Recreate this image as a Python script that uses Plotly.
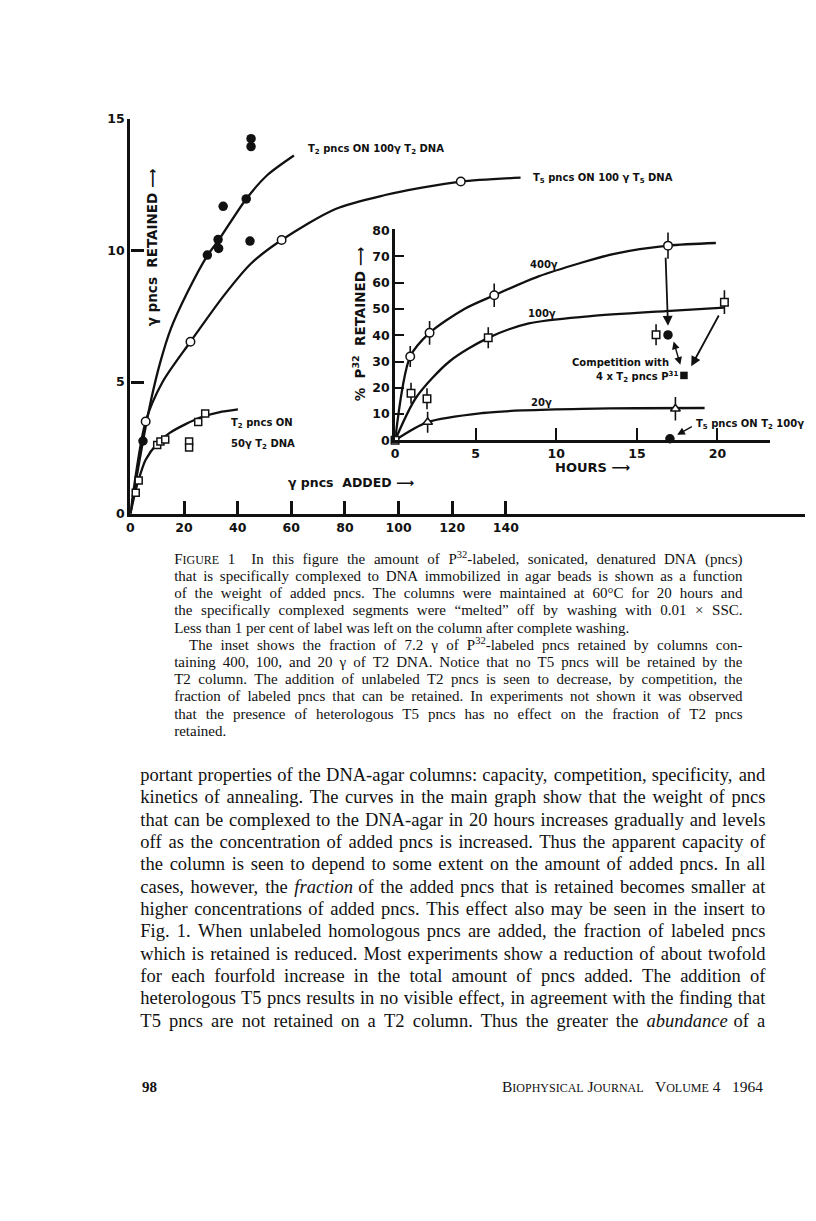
import re
import plotly.graph_objects as go

# ---------------- main graph: gamma pncs added vs gamma pncs retained ----------------
t2_100_x = [4.7, 28.7, 32.7, 32.9, 34.6, 43.2, 44.6, 45.0, 45.0]
t2_100_y = [2.76, 9.82, 10.41, 10.07, 11.67, 11.95, 10.35, 13.94, 14.24]
t2_100_curve_x = [0, 2, 4.7, 8, 11, 15, 21, 28.7, 33, 43.2, 51, 61]
t2_100_curve_y = [0, 1.2, 2.76, 4.45, 5.7, 7.0, 8.35, 9.8, 10.4, 11.95, 12.85, 13.6]

t5_100_x = [5.7, 22.4, 56.4, 123.2]
t5_100_y = [3.50, 6.53, 10.39, 12.61]
t5_100_curve_x = [0, 5.7, 12, 22.4, 35, 45, 56.4, 76.5, 95, 108.7, 123.2, 145.5]
t5_100_curve_y = [0, 3.5, 5.0, 6.53, 8.3, 9.5, 10.39, 11.57, 12.1, 12.38, 12.61, 12.76]

t2_50_x = [2.0, 3.1, 10.0, 11.2, 13.0, 21.9, 21.9, 25.3, 27.9]
t2_50_y = [0.80, 1.26, 2.61, 2.74, 2.82, 2.74, 2.51, 3.48, 3.80]
t2_50_curve_x = [0, 2, 3.1, 5.7, 10, 14.4, 20.6, 26.8, 33, 40.1]
t2_50_curve_y = [0, 0.9, 1.3, 2.05, 2.66, 3.05, 3.40, 3.68, 3.85, 3.96]

main_xticks = [0, 20, 40, 60, 80, 100, 120, 140]
main_yticks = [0, 5, 10, 15]

# ---------------- inset: hours vs % P32 retained ----------------
h400 = [0.94, 2.14, 6.15, 16.93]
p400 = [31.9, 40.9, 55.2, 74.1]
e400 = [4.0, 4.5, 4.5, 5.0]
h400_curve = [0, 0.94, 2.14, 4.3, 6.15, 8.9, 11.5, 13.6, 16.93, 19.9]
p400_curve = [0, 31.9, 40.9, 50.0, 55.2, 62.4, 67.5, 71.0, 74.1, 75.1]

h100 = [0, 0.99, 1.98, 5.78, 16.19, 20.43]
p100 = [0, 17.9, 15.8, 39.0, 40.2, 52.6]
e100 = [0, 4.0, 4.0, 4.0, 4.0, 4.5]
h100_curve = [0, 1.32, 3.39, 5.78, 8.3, 12, 16.8, 20.4]
p100_curve = [0, 16.4, 30.1, 39.0, 44.5, 47.2, 49.2, 50.5]

h20 = [2.02, 17.39]
p20 = [6.9, 12.0]
e20 = [4.0, 4.5]
h20_curve = [0, 2.02, 5.45, 8, 11.6, 15, 19.2]
p20_curve = [0, 6.9, 10.4, 11.4, 12.0, 12.2, 12.3]

comp400_h, comp400_p = [16.93], [40.1]   # competition with 4 x T2 pncs P31
comp100_h, comp100_p = [17.92], [24.7]
t5_on_t2_h, t5_on_t2_p = [17.05], [0.6]

inset_xticks = [0, 5, 10, 15, 20]
inset_yticks = [0, 10, 20, 30, 40, 50, 60, 70, 80]

# ---------------- page text ----------------
caption_lines = [
    'F<span style="font-size:12px">IGURE</span> 1\u00a0\u00a0 In this figure the amount of P<sup>32</sup>-labeled, sonicated, denatured DNA (pncs)',
    'that is specifically complexed to DNA immobilized in agar beads is shown as a function',
    'of the weight of added pncs. The columns were maintained at 60°C for 20 hours and',
    'the specifically complexed segments were “melted” off by washing with 0.01 × SSC.',
    'Less than 1 per cent of label was left on the column after complete washing.',
    'The inset shows the fraction of 7.2 γ of P<sup>32</sup>-labeled pncs retained by columns con-',
    'taining 400, 100, and 20 γ of T2 DNA. Notice that no T5 pncs will be retained by the',
    'T2 column. The addition of unlabeled T2 pncs is seen to decrease, by competition, the',
    'fraction of labeled pncs that can be retained. In experiments not shown it was observed',
    'that the presence of heterologous T5 pncs has no effect on the fraction of T2 pncs',
    'retained.',
]
body_lines = [
    'portant properties of the DNA-agar columns: capacity, competition, specificity, and',
    'kinetics of annealing. The curves in the main graph show that the weight of pncs',
    'that can be complexed to the DNA-agar in 20 hours increases gradually and levels',
    'off as the concentration of added pncs is increased. Thus the apparent capacity of',
    'the column is seen to depend to some extent on the amount of added pncs. In all',
    'cases, however, the <i>fraction</i> of the added pncs that is retained becomes smaller at',
    'higher concentrations of added pncs. This effect also may be seen in the insert to',
    'Fig. 1. When unlabeled homologous pncs are added, the fraction of labeled pncs',
    'which is retained is reduced. Most experiments show a reduction of about twofold',
    'for each fourfold increase in the total amount of pncs added. The addition of',
    'heterologous T5 pncs results in no visible effect, in agreement with the finding that',
    'T5 pncs are not retained on a T2 column. Thus the greater the <i>abundance</i> of a',
]

W, H = 816, 1221


def px(x):
    return x / W


def py(y):
    return 1 - y / H


# Times / Liberation Serif advance widths (1/1000 em) for justifying lines
TW = dict(zip("abcdefghijklmnopqrstuvwxyz",
              [444, 500, 444, 500, 444, 333, 500, 500, 278, 278, 500, 278, 778,
               500, 500, 500, 500, 333, 389, 278, 500, 500, 722, 500, 500, 444]))
TW.update(zip("ABCDEFGHIJKLMNOPQRSTUVWXYZ",
              [722, 667, 667, 722, 611, 556, 722, 722, 333, 389, 722, 611, 889,
               722, 722, 556, 722, 667, 556, 611, 722, 722, 944, 722, 722, 611]))
TW.update({c: 500 for c in "0123456789"})
TW.update({' ': 250, '\u00a0': 250, ',': 250, '.': 250, ':': 278, ';': 278, '-': 333,
           '(': 333, ')': 333, '°': 400, '×': 564, '“': 444, '”': 444, 'γ': 440})


def text_w(s, size):
    total, scale = 0.0, 1.0
    for tag, chars in re.findall(r'(<[^>]+>)|([^<]+)', s):
        if tag:
            if tag in ('<sup>', '<sub>'):
                scale = 0.7
            elif tag.startswith('<span'):
                scale = 0.8
            elif tag.startswith('</s'):
                scale = 1.0
        else:
            total += sum(TW.get(c, 500) for c in chars) * scale
    return total * size / 1000


def words_of(lines, lefts, right, y0, dy, size, justify):
    # justified word positions in page pixels
    xs, ys, ts = [], [], []
    for i, line in enumerate(lines):
        words = re.split(r' +(?![^<]*>)', line.strip())
        widths = [text_w(w, size) for w in words]
        gap = 0.25 * size
        if justify[i] and len(words) > 1:
            gap = max((right - lefts[i] - sum(widths)) / (len(words) - 1), 0.5 * gap)
        x = lefts[i]
        for w, wd in zip(words, widths):
            xs.append(x)
            ys.append(y0 + dy * i)
            ts.append(w)
            x += wd + gap
    return xs, ys, ts


ink = '#111111'
sans_b = dict(family='DejaVu Sans', size=10, color=ink, weight='bold')
tick_font = dict(family='DejaVu Sans', size=12.5, color=ink, weight='bold')

fig = go.Figure()

line_style = dict(color=ink, width=2.3, shape='spline', smoothing=0.8)

# main curves
fig.add_trace(go.Scatter(x=t2_100_curve_x, y=t2_100_curve_y, mode='lines', line=line_style))
fig.add_trace(go.Scatter(x=t5_100_curve_x, y=t5_100_curve_y, mode='lines', line=line_style))
fig.add_trace(go.Scatter(x=t2_50_curve_x, y=t2_50_curve_y, mode='lines', line=line_style))

# main points
fig.add_trace(go.Scatter(x=t2_100_x, y=t2_100_y, mode='markers', cliponaxis=False,
                         marker=dict(symbol='circle', size=9.5, color=ink)))
fig.add_trace(go.Scatter(x=t5_100_x, y=t5_100_y, mode='markers', cliponaxis=False,
                         marker=dict(symbol='circle', size=8.5, color='white',
                                     line=dict(color=ink, width=1.5))))
fig.add_trace(go.Scatter(x=t2_50_x, y=t2_50_y, mode='markers', cliponaxis=False,
                         marker=dict(symbol='square', size=7, color='white',
                                     line=dict(color=ink, width=1.5))))

# inset curves
inset = dict(xaxis='x2', yaxis='y2')
fig.add_trace(go.Scatter(x=h400_curve, y=p400_curve, mode='lines', line=line_style, **inset))
fig.add_trace(go.Scatter(x=h100_curve, y=p100_curve, mode='lines', line=line_style, **inset))
fig.add_trace(go.Scatter(x=h20_curve, y=p20_curve, mode='lines', line=line_style, **inset))

err = dict(type='data', color=ink, thickness=1.6, width=0)
fig.add_trace(go.Scatter(x=h400, y=p400, mode='markers', cliponaxis=False,
                         error_y=dict(array=e400, **err),
                         marker=dict(symbol='circle', size=8.5, color='white',
                                     line=dict(color=ink, width=1.5)), **inset))
fig.add_trace(go.Scatter(x=h100, y=p100, mode='markers', cliponaxis=False,
                         error_y=dict(array=e100, **err),
                         marker=dict(symbol='square', size=7.5, color='white',
                                     line=dict(color=ink, width=1.5)), **inset))
fig.add_trace(go.Scatter(x=h20, y=p20, mode='markers', cliponaxis=False,
                         error_y=dict(array=e20, **err),
                         marker=dict(symbol='triangle-up', size=8.5, color='white',
                                     line=dict(color=ink, width=1.5)), **inset))
fig.add_trace(go.Scatter(x=comp400_h + t5_on_t2_h, y=comp400_p + t5_on_t2_p, mode='markers',
                         cliponaxis=False, marker=dict(symbol='circle', size=9.5, color=ink), **inset))
fig.add_trace(go.Scatter(x=comp100_h, y=comp100_p, mode='markers', cliponaxis=False,
                         marker=dict(symbol='square', size=7.5, color=ink), **inset))

# page text as text-only traces on a hidden pixel-unit axis pair (baseline-aligned words)
page = dict(xaxis='x3', yaxis='y3', mode='text', textposition='middle right',
            cliponaxis=False, hoverinfo='skip')
cap_x, cap_y, cap_t = words_of(caption_lines, [186 if i == 5 else 171 for i in range(11)],
                               742, 559, 17.4, 15, [i not in (4, 10) for i in range(11)])
fig.add_trace(go.Scatter(x=cap_x, y=cap_y, text=cap_t,
                         textfont=dict(family='Liberation Serif', size=15, color=ink), **page))
body_x, body_y, body_t = words_of(body_lines, [137] * 12, 765, 778, 22.6, 18.5, [True] * 12)
fig.add_trace(go.Scatter(x=body_x, y=body_y, text=body_t,
                         textfont=dict(family='Liberation Serif', size=18.5, color=ink), **page))

ann = []


# curve labels and axis captions of the figure
def lab(text, x, y, anchor='left', font=sans_b, angle=0):
    ann.append(dict(text=text, x=px(x), y=py(y), xref='paper', yref='paper',
                    xanchor=anchor, yanchor='middle', showarrow=False,
                    textangle=angle, font=font))


lab('T<sub>2</sub> pncs ON 100γ T<sub>2</sub> DNA', 303, 143)
lab('T<sub>5</sub> pncs ON 100 γ T<sub>5</sub> DNA', 530, 173)
lab('T<sub>2</sub> pncs ON', 226, 421)
lab('50γ T<sub>2</sub> DNA', 226, 442)
lab('γ pncs  ADDED ⟶', 283, 480, font=dict(sans_b, size=12.5))
lab('HOURS ⟶', 552, 465, font=dict(sans_b, size=13))
lab('400γ', 527, 260)
lab('100γ', 525, 309)
lab('20γ', 528, 399)
lab('Competition with', 620, 359, anchor='center', font=dict(sans_b, size=10))
lab('4 x T<sub>2</sub> pncs P<sup>31</sup>', 679, 374, anchor='right', font=dict(sans_b, size=10))
lab('T<sub>5</sub> pncs ON T<sub>2</sub> 100γ', 693, 422)
lab('γ pncs  RETAINED ⟶', 149, 242, anchor='center', font=dict(sans_b, size=13.5), angle=-90)
lab('%  P<sup>32</sup>  RETAINED ⟶', 357, 320, anchor='center', font=dict(sans_b, size=13.5), angle=-90)

# arrows in the inset
arr = dict(xref='x2', yref='y2', axref='x2', ayref='y2', text='', showarrow=True,
           arrowhead=2, arrowsize=1.1, arrowwidth=1.8, arrowcolor=ink)
ann.append(dict(x=comp400_h[0], y=comp400_p[0] + 3.5, ax=h400[3] - 0.15, ay=p400[3] - 4, **arr))
ann.append(dict(x=comp100_h[0] + 0.45, y=comp100_p[0] + 3.5, ax=h100[5] - 0.3, ay=p100[5] - 4.5, **arr))
ann.append(dict(x=comp400_h[0] + 0.35, y=comp400_p[0] - 2.5, ax=comp100_h[0] - 0.2,
                ay=comp100_p[0] + 3.5, arrowside='end+start', **dict(arr, arrowwidth=1.4)))
ann.append(dict(x=t5_on_t2_h[0] + 0.45, y=t5_on_t2_p[0] + 1.5, ax=18.5, ay=5.5, **dict(arr, arrowwidth=1.4)))

# running foot
lab('98', 137, 1092, font=dict(family='Liberation Serif', size=15, color=ink, weight='bold'))
lab('B<span style="font-size:12px">IOPHYSICAL</span> J<span style="font-size:12px">OURNAL</span>'
    '\u00a0\u00a0 V<span style="font-size:12px">OLUME</span> 4\u00a0\u00a0 1964', 765, 1092, anchor='right',
    font=dict(family='Liberation Serif', size=15.5, color=ink))

axis_common = dict(showgrid=False, zeroline=False, showline=True, linecolor=ink,
                   ticks='inside', tickcolor=ink, tickfont=tick_font)

fig.update_layout(
    width=W, height=H, autosize=False,
    margin=dict(l=0, r=0, t=0, b=0),
    paper_bgcolor='white', plot_bgcolor='rgba(0,0,0,0)',
    showlegend=False,
    xaxis=dict(domain=[px(127), px(805)], range=[0, (805 - 127) / 2.695],
               tickvals=main_xticks, ticklen=13, tickwidth=2.5, linewidth=3.3,
               anchor='y', **axis_common),
    yaxis=dict(domain=[py(512), py(112)], range=[0, 15], tickvals=main_yticks,
               ticklen=13, tickwidth=2.5, linewidth=3.3, anchor='x', **axis_common),
    xaxis2=dict(domain=[px(393), px(770)], range=[0, (770 - 393) / 16.2],
                tickvals=inset_xticks, ticklen=12, tickwidth=2.2, linewidth=2.8,
                anchor='y2', **axis_common),
    yaxis2=dict(domain=[py(437.7), py(224)], range=[0, (437.7 - 224) / 2.66],
                tickvals=inset_yticks, ticklen=9, tickwidth=2.2, linewidth=2.8,
                anchor='x2', **axis_common),
    xaxis3=dict(domain=[0, 1], range=[0, W], visible=False, anchor='y3'),
    yaxis3=dict(domain=[0, 1], range=[H, 0], visible=False, anchor='x3'),
    annotations=ann,
)

# the page's default 8px body margin would shift the whole figure
fig.write_html("out.html", config={'displayModeBar': False},
               post_script="document.body.style.margin='0';"
                           "document.documentElement.style.overflow='hidden';")
